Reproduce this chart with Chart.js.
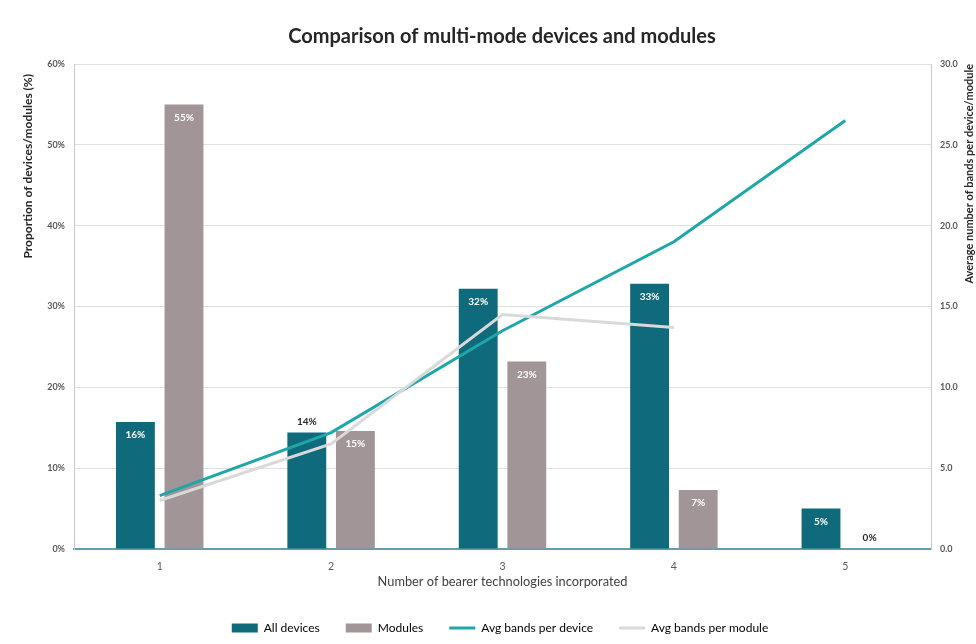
<!DOCTYPE html>
<html>
<head>
<meta charset="utf-8">
<script src="https://cdn.jsdelivr.net/npm/chart.js@4/dist/chart.umd.min.js"></script>
<style>
html,body{margin:0;padding:0;background:#fff;}
#wrap{width:976px;height:644px;position:relative;}
</style>
</head>
<body>
<div id="wrap"><canvas id="c" width="976" height="644"></canvas></div>
<script>
const categories = ['1', '2', '3', '4', '5'];
const allDevices = [15.7, 14.4, 32.2, 32.8, 5.0];
const modules = [55.0, 14.6, 23.2, 7.3, 0];
const avgBandsDevice = [3.3, 7.2, 13.5, 19.0, 26.5];
const avgBandsModule = [3.0, 6.5, 14.5, 13.7, null];
const barLabels = [['16%', '14%', '32%', '33%', '5%'], ['55%', '15%', '23%', '7%', '0%']];
const leftTicks = ['0%', '10%', '20%', '30%', '40%', '50%', '60%'];
const rightTicks = ['0.0', '5.0', '10.0', '15.0', '20.0', '25.0', '30.0'];

const FONT = 'Lato, "Open Sans", sans-serif';
const outsideLabels = {0: [1], 1: [4]};

const labelPlugin = {
  id: 'extras',
  afterDatasetsDraw(chart) {
    const ctx = chart.ctx;
    ctx.save();
    [0, 1].forEach(di => {
      const meta = chart.getDatasetMeta(di);
      meta.data.forEach((bar, i) => {
        const txt = barLabels[di][i];
        ctx.font = 'bold 10px ' + FONT;
        ctx.textAlign = 'center';
        ctx.textBaseline = 'middle';
        if ((outsideLabels[di] || []).includes(i)) {
          ctx.fillStyle = '#262626';
          ctx.fillText(txt, bar.x, bar.y - 11);
        } else {
          ctx.fillStyle = '#ffffff';
          ctx.fillText(txt, bar.x, bar.y + 13);
        }
      });
    });
    ctx.restore();
  },
  afterDraw(chart) {
    const ctx = chart.ctx;
    const a = chart.chartArea;
    ctx.save();
    ctx.fillStyle = '#262626';
    ctx.textAlign = 'center';
    ctx.textBaseline = 'middle';
    ctx.font = 'bold 20px ' + FONT;
    ctx.fillText('Comparison of multi-mode devices and modules', 502, 37);
    // left axis title
    ctx.font = 'bold 12px ' + FONT;
    ctx.save();
    ctx.translate(28, a.top);
    ctx.rotate(-Math.PI / 2);
    ctx.textAlign = 'right';
    ctx.fillText('Proportion of devices/modules (%)', -10, 0);
    ctx.restore();
    // right axis title
    ctx.font = 'bold 11px ' + FONT;
    ctx.save();
    ctx.translate(969, a.top);
    ctx.rotate(-Math.PI / 2);
    ctx.textAlign = 'right';
    ctx.fillText('Average number of bands per device/module', 0, 0);
    ctx.restore();
    // x title
    ctx.font = '12.8px ' + FONT;
    ctx.fillStyle = '#404040';
    ctx.fillText('Number of bearer technologies incorporated', (a.left + a.right) / 2, 582);
    ctx.restore();
  }
};

new Chart(document.getElementById('c'), {
  data: {
    labels: categories,
    datasets: [
      {type: 'bar', label: 'All devices', data: allDevices, backgroundColor: '#0f6b7b', yAxisID: 'y', categoryPercentage: 0.567, barPercentage: 0.8, order: 2},
      {type: 'bar', label: 'Modules', data: modules, backgroundColor: '#a29597', yAxisID: 'y', categoryPercentage: 0.567, barPercentage: 0.8, order: 2},
      {type: 'line', label: 'Avg bands per device', data: avgBandsDevice, borderColor: '#1fa6a8', backgroundColor: '#1fa6a8', borderWidth: 3, pointRadius: 0, yAxisID: 'y1', order: 1},
      {type: 'line', label: 'Avg bands per module', data: avgBandsModule, borderColor: '#d9d9d9', backgroundColor: '#d9d9d9', borderWidth: 3, pointRadius: 0, yAxisID: 'y1', order: 0}
    ]
  },
  options: {
    responsive: false,
    animation: false,
    layout: {padding: {top: 64, left: 24, right: 0, bottom: 0}},
    plugins: {
      tooltip: {enabled: false},
      legend: {
        position: 'bottom',
        labels: {
          usePointStyle: true,
          pointStyleWidth: 26,
          boxHeight: 9,
          padding: 26,
          color: '#404040',
          font: {size: 12, family: FONT},
          generateLabels(chart) {
            return chart.data.datasets.map((ds, i) => ({
              text: ds.label,
              fillStyle: ds.backgroundColor,
              strokeStyle: ds.type === 'line' ? ds.borderColor : ds.backgroundColor,
              lineWidth: ds.type === 'line' ? 3 : 0,
              pointStyle: ds.type === 'line' ? 'line' : 'rect',
              hidden: false,
              datasetIndex: i
            }));
          }
        }
      }
    },
    scales: {
      x: {
        grid: {display: false},
        border: {display: true, color: '#5f9fae', width: 2},
        ticks: {color: '#595959', font: {size: 10.5, family: FONT}, padding: 3},
        afterFit(s) { s.height = 47; }
      },
      y: {
        position: 'left',
        min: 0, max: 60,
        ticks: {stepSize: 10, color: '#595959', font: {size: 9, weight: 'bold', family: FONT}, padding: 9,
          callback: (v, i) => leftTicks[i]},
        grid: {color: '#e0e0e0', drawTicks: false},
        border: {display: true, color: '#c8c8c8', width: 1},
        afterFit(s) { s.width = 50; }
      },
      y1: {
        position: 'right',
        min: 0, max: 30,
        ticks: {stepSize: 5, color: '#595959', font: {size: 9, weight: 'bold', family: FONT}, padding: 9,
          callback: (v, i) => rightTicks[i]},
        grid: {display: false, drawTicks: false},
        border: {display: true, color: '#c8c8c8', width: 1},
        afterFit(s) { s.width = 45; }
      }
    }
  },
  plugins: [labelPlugin]
});
</script>
</body>
</html>
